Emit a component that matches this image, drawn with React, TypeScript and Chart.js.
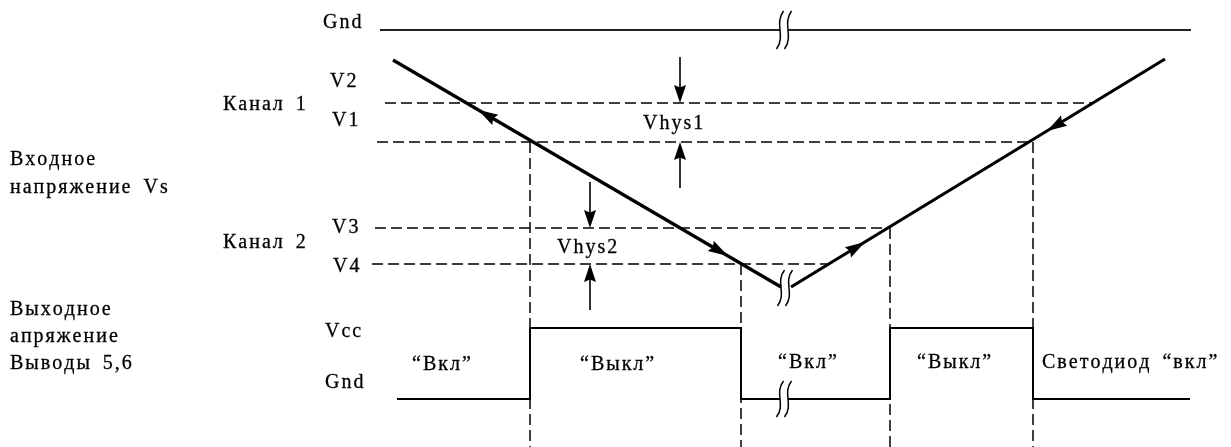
import React, { useEffect, useRef } from 'react';
import { Chart, registerables } from 'chart.js';

Chart.register(...registerables);

const W = 1231;
const H = 447;
const FONT = '20px Tinos, Liberation Serif, serif';
const LETTER_GAP = 2;
const SPACE_EXTRA = 4;

// ---- data (diagram units: x = time, y = level, top = 0) ----
const levelNames = ['Gnd', 'V2', 'V1', 'V3', 'V4'];
const levelValues = [30, 103, 142, 228, 264];

const sweepDownT = [393, 781];
const sweepDownV = [60, 287];
const sweepUpT = [791, 1165];
const sweepUpV = [287, 59];

const switchT = [530, 741, 890, 1033];
const switchLevel = ['V1', 'V4', 'V3', 'V1'];

const outT = [397, 530, 530, 741, 741, 890, 890, 1033, 1033, 1190];
const outHigh = [0, 0, 1, 1, 0, 0, 1, 1, 0, 0];
const outLevelNames = ['Vcc', 'Gnd'];
const outLevelValues = [328, 399];

const outStates = ['\u201CВкл\u201D', '\u201CВыкл\u201D', '\u201CВкл\u201D', '\u201CВыкл\u201D', 'Светодиод \u201Cвкл\u201D'];

const arrowT = [478, 728, 865, 1047];
const arrowDir = [-1, 1, 1, -1];

const vhysNames = ['Vhys1', 'Vhys2'];
const vhysT = [680, 590];
const vhysUpper = ['V2', 'V3'];
const vhysLower = ['V1', 'V4'];

const breakT = 784;

const inputTitle = ['Входное', 'напряжение Vs'];
const outputTitle = ['Выходное', 'апряжение', 'Выводы 5,6'];
const channelNames = ['Канал 1', 'Канал 2'];

// ---- layout (not data) ----
const gndLineSpan = [380, 1191];
const refStart: Record<string, number> = { V2: 385, V1: 377, V3: 375, V4: 372 };
const textPos: Array<[string, number, number]> = [
  [levelNames[0], 323, 28],
  [levelNames[1], 330, 87],
  [levelNames[2], 332, 126],
  [levelNames[3], 332, 233],
  [levelNames[4], 333, 272],
  [channelNames[0], 223, 110],
  [channelNames[1], 223, 248],
  [inputTitle[0], 10, 165],
  [inputTitle[1], 10, 193],
  [outputTitle[0], 10, 315],
  [outputTitle[1], 10, 342],
  [outputTitle[2], 10, 369],
  [outLevelNames[0], 325, 337],
  [outLevelNames[1], 325, 388],
  [outStates[0], 412, 370],
  [outStates[1], 580, 370],
  [outStates[2], 778, 368],
  [outStates[3], 917, 368],
  [outStates[4], 1042, 368],
  [vhysNames[0], 643, 129],
  [vhysNames[1], 557, 253],
];

const lvl = (name: string) => levelValues[levelNames.indexOf(name)];

const riseAt = (v: number) =>
  sweepUpT[0] + ((sweepUpV[0] - v) / (sweepUpV[0] - sweepUpV[1])) * (sweepUpT[1] - sweepUpT[0]);

function buildDatasets() {
  const ds: any[] = [];
  const solid = (data: any[], width: number, color = '#000') => ({
    data, borderColor: color, borderWidth: width, pointRadius: 0, fill: false,
  });
  const dashed = (data: any[], width: number) => ({
    data, borderColor: '#000', borderWidth: width, borderDash: [11, 5], pointRadius: 0, fill: false,
  });
  ds.push(solid([{ x: gndLineSpan[0], y: lvl('Gnd') }, { x: gndLineSpan[1], y: lvl('Gnd') }], 2, '#222'));
  ['V2', 'V1', 'V3', 'V4'].forEach((n) => {
    ds.push(dashed([{ x: refStart[n], y: lvl(n) }, { x: riseAt(lvl(n)), y: lvl(n) }], 1.7));
  });
  switchT.forEach((t, i) => {
    ds.push(dashed([{ x: t, y: lvl(switchLevel[i]) }, { x: t, y: H }], 1.5));
  });
  ds.push(solid([{ x: sweepDownT[0], y: sweepDownV[0] }, { x: sweepDownT[1], y: sweepDownV[1] }], 3.2));
  ds.push(solid([{ x: sweepUpT[0], y: sweepUpV[0] }, { x: sweepUpT[1], y: sweepUpV[1] }], 3.2));
  ds.push(solid(outT.map((t, i) => ({ x: t, y: outLevelValues[outHigh[i] ? 0 : 1] })), 2));
  vhysT.forEach((t, i) => {
    const up = lvl(vhysUpper[i]);
    const lo = lvl(vhysLower[i]);
    ds.push(solid([{ x: t, y: up - 46 }, { x: t, y: up - 4 }], 1.6));
    ds.push(solid([{ x: t, y: lo + 4 }, { x: t, y: lo + 46 }], 1.6));
  });
  return ds;
}

function arrowHead(ctx: CanvasRenderingContext2D, tx: number, ty: number, dx: number, dy: number, len: number, half: number) {
  const m = Math.hypot(dx, dy);
  const ux = dx / m, uy = dy / m;
  const px = -uy, py = ux;
  const bx = tx - ux * len, by = ty - uy * len;
  ctx.beginPath();
  ctx.moveTo(tx, ty);
  ctx.lineTo(bx + px * half, by + py * half);
  ctx.lineTo(bx + ux * 2.5, by + uy * 2.5);
  ctx.lineTo(bx - px * half, by - py * half);
  ctx.closePath();
  ctx.fill();
}

function curvePts(x: number, cy: number, h: number) {
  return [x + 3.5, cy - h, x - 6, cy - h * 0.3, x + 6, cy + h * 0.3, x - 3.5, cy + h];
}

function drawBreak(ctx: CanvasRenderingContext2D, cx: number, cy: number, h: number, gap: number, mask: boolean) {
  const a = curvePts(cx - gap / 2, cy, h);
  const b = curvePts(cx + gap / 2, cy, h);
  if (mask) {
    ctx.save();
    ctx.fillStyle = '#fff';
    ctx.beginPath();
    ctx.moveTo(a[0], a[1]);
    ctx.bezierCurveTo(a[2], a[3], a[4], a[5], a[6], a[7]);
    ctx.lineTo(b[6], b[7]);
    ctx.bezierCurveTo(b[4], b[5], b[2], b[3], b[0], b[1]);
    ctx.closePath();
    ctx.fill();
    ctx.restore();
  }
  ctx.save();
  ctx.strokeStyle = '#000';
  ctx.lineWidth = 1.5;
  [a, b].forEach((c) => {
    ctx.beginPath();
    ctx.moveTo(c[0], c[1]);
    ctx.bezierCurveTo(c[2], c[3], c[4], c[5], c[6], c[7]);
    ctx.stroke();
  });
  ctx.restore();
}

function spacedText(ctx: CanvasRenderingContext2D, s: string, x: number, y: number, gap: number) {
  let cx = x;
  for (const ch of Array.from(s)) {
    ctx.fillText(ch, cx, y);
    ctx.strokeText(ch, cx, y);
    cx += ctx.measureText(ch).width + gap + (ch === ' ' ? SPACE_EXTRA : 0);
  }
}

const diagramPlugin = {
  id: 'diagram',
  afterDatasetsDraw(chart: any) {
    const ctx: CanvasRenderingContext2D = chart.ctx;
    const xs = chart.scales.x;
    const ys = chart.scales.y;
    const px = (v: number) => xs.getPixelForValue(v);
    const py = (v: number) => ys.getPixelForValue(v);
    ctx.save();
    ctx.fillStyle = '#000';
    arrowT.forEach((t, i) => {
      const T = t < breakT ? sweepDownT : sweepUpT;
      const V = t < breakT ? sweepDownV : sweepUpV;
      const v = V[0] + ((t - T[0]) / (T[1] - T[0])) * (V[1] - V[0]);
      const dx = (px(T[1]) - px(T[0])) * arrowDir[i];
      const dy = (py(V[1]) - py(V[0])) * arrowDir[i];
      arrowHead(ctx, px(t), py(v), dx, dy, 20, 6);
    });
    vhysT.forEach((t, i) => {
      arrowHead(ctx, px(t), py(lvl(vhysUpper[i])), 0, 1, 18, 6);
      arrowHead(ctx, px(t), py(lvl(vhysLower[i])), 0, -1, 18, 6);
    });
    drawBreak(ctx, px(breakT), py(lvl('Gnd')), 19, 8, true);
    drawBreak(ctx, px(breakT + 1), py(sweepDownV[1]) + 1, 18, 8, false);
    drawBreak(ctx, px(breakT), py(outLevelValues[1]), 18, 8, true);
    ctx.fillStyle = '#000';
    ctx.strokeStyle = '#000';
    ctx.lineWidth = 0.3;
    ctx.font = FONT;
    ctx.textAlign = 'left';
    ctx.textBaseline = 'alphabetic';
    textPos.forEach(([s, x, y]) => spacedText(ctx, s, px(x), py(y), LETTER_GAP));
    ctx.restore();
  },
};

export default function App() {
  const ref = useRef<HTMLCanvasElement | null>(null);
  useEffect(() => {
    document.body.style.margin = '0';
    const canvas = ref.current;
    if (!canvas) return;
    const chart = new Chart(canvas, {
      type: 'line',
      data: { datasets: buildDatasets() },
      options: {
        animation: false,
        responsive: false,
        devicePixelRatio: 1,
        events: [],
        layout: { padding: 0 },
        plugins: { legend: { display: false }, tooltip: { enabled: false } },
        elements: { point: { radius: 0 }, line: { tension: 0 } },
        scales: {
          x: { type: 'linear', min: 0, max: W, display: false },
          y: { type: 'linear', min: 0, max: H, reverse: true, display: false },
        },
      },
      plugins: [diagramPlugin],
    } as any);
    let alive = true;
    const redraw = () => { if (alive) chart.draw(); };
    const fonts: any = (document as any).fonts;
    if (fonts && fonts.load) fonts.load(FONT, 'ВходноеVs').then(redraw, () => {});
    const tm = setTimeout(redraw, 300);
    return () => { alive = false; clearTimeout(tm); chart.destroy(); };
  }, []);
  return (
    <div style={{ width: W, height: H, background: '#fff' }}>
      <canvas ref={ref} width={W} height={H} style={{ display: 'block' }} />
    </div>
  );
}
